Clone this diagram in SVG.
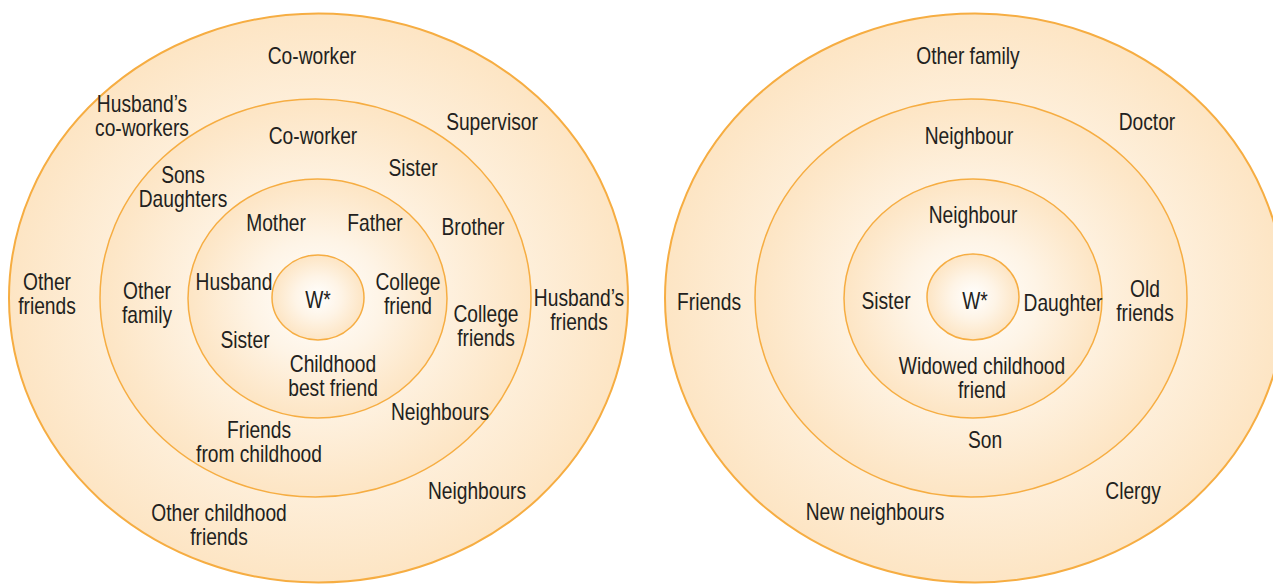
<svg xmlns="http://www.w3.org/2000/svg" width="1273" height="584" viewBox="0 0 1273 584">
<defs>
<radialGradient id="g" cx="0.5" cy="0.5" r="0.5">
<stop offset="0" stop-color="#ffffff"/>
<stop offset="0.5" stop-color="#fef4e6"/>
<stop offset="1" stop-color="#fde5c4"/>
</radialGradient>
<style>
.e{fill:url(#g);stroke:#f6ad42;stroke-width:1.5}
.o{stroke-width:2}
text{font-family:"Liberation Sans",Arial,sans-serif;font-size:24px;fill:#231f20;text-anchor:middle}
</style>
</defs>
<rect width="1273" height="584" fill="#ffffff"/>
<g id="left">
<ellipse class="e o" cx="318.5" cy="298" rx="309.5" ry="284.5"/>
<ellipse class="e" cx="315.5" cy="298" rx="215.5" ry="199"/>
<ellipse class="e" cx="317.5" cy="298.5" rx="129.5" ry="119.5"/>
<ellipse class="e" cx="318" cy="297.5" rx="46" ry="42.5"/>
</g>
<g id="right">
<ellipse class="e o" cx="975" cy="298" rx="310" ry="284.5"/>
<ellipse class="e" cx="971" cy="298" rx="216" ry="199"/>
<ellipse class="e" cx="973" cy="298.5" rx="129" ry="119.5"/>
<ellipse class="e" cx="973" cy="297" rx="46" ry="43"/>
</g>
<g id="left-labels">
<text transform="matrix(0.8 0 0 1 312 64)">Co-worker</text>
<text transform="matrix(0.8 0 0 1 142 112)">Husband’s</text>
<text transform="matrix(0.8 0 0 1 142 136)">co-workers</text>
<text transform="matrix(0.8 0 0 1 492 130)">Supervisor</text>
<text transform="matrix(0.8 0 0 1 313 144)">Co-worker</text>
<text transform="matrix(0.8 0 0 1 413 176)">Sister</text>
<text transform="matrix(0.8 0 0 1 183 183)">Sons</text>
<text transform="matrix(0.8 0 0 1 183 207)">Daughters</text>
<text transform="matrix(0.8 0 0 1 276 231)">Mother</text>
<text transform="matrix(0.8 0 0 1 375 231)">Father</text>
<text transform="matrix(0.8 0 0 1 473 235)">Brother</text>
<text transform="matrix(0.8 0 0 1 47 290)">Other</text>
<text transform="matrix(0.8 0 0 1 47 314)">friends</text>
<text transform="matrix(0.8 0 0 1 147 299)">Other</text>
<text transform="matrix(0.8 0 0 1 147 323)">family</text>
<text transform="matrix(0.8 0 0 1 234 290)">Husband</text>
<text transform="matrix(0.8 0 0 1 318 308)">W*</text>
<text transform="matrix(0.8 0 0 1 408 290)">College</text>
<text transform="matrix(0.8 0 0 1 408 314)">friend</text>
<text transform="matrix(0.8 0 0 1 486 322)">College</text>
<text transform="matrix(0.8 0 0 1 486 346)">friends</text>
<text transform="matrix(0.8 0 0 1 579 306)">Husband’s</text>
<text transform="matrix(0.8 0 0 1 579 330)">friends</text>
<text transform="matrix(0.8 0 0 1 245 348)">Sister</text>
<text transform="matrix(0.8 0 0 1 333 372)">Childhood</text>
<text transform="matrix(0.8 0 0 1 333 396)">best friend</text>
<text transform="matrix(0.8 0 0 1 440 420)">Neighbours</text>
<text transform="matrix(0.8 0 0 1 259 438)">Friends</text>
<text transform="matrix(0.8 0 0 1 259 462)">from childhood</text>
<text transform="matrix(0.8 0 0 1 477 499)">Neighbours</text>
<text transform="matrix(0.8 0 0 1 219 521)">Other childhood</text>
<text transform="matrix(0.8 0 0 1 219 545)">friends</text>
</g>
<g id="right-labels">
<text transform="matrix(0.8 0 0 1 968 64)">Other family</text>
<text transform="matrix(0.8 0 0 1 1147 130)">Doctor</text>
<text transform="matrix(0.8 0 0 1 969 144)">Neighbour</text>
<text transform="matrix(0.8 0 0 1 973 223)">Neighbour</text>
<text transform="matrix(0.8 0 0 1 709 310)">Friends</text>
<text transform="matrix(0.8 0 0 1 886 309)">Sister</text>
<text transform="matrix(0.8 0 0 1 975 309)">W*</text>
<text transform="matrix(0.8 0 0 1 1063 311)">Daughter</text>
<text transform="matrix(0.8 0 0 1 1145 297)">Old</text>
<text transform="matrix(0.8 0 0 1 1145 321)">friends</text>
<text transform="matrix(0.8 0 0 1 982 374)">Widowed childhood</text>
<text transform="matrix(0.8 0 0 1 982 398)">friend</text>
<text transform="matrix(0.8 0 0 1 985 448)">Son</text>
<text transform="matrix(0.8 0 0 1 1133 499)">Clergy</text>
<text transform="matrix(0.8 0 0 1 875 520)">New neighbours</text>
</g>
</svg>
